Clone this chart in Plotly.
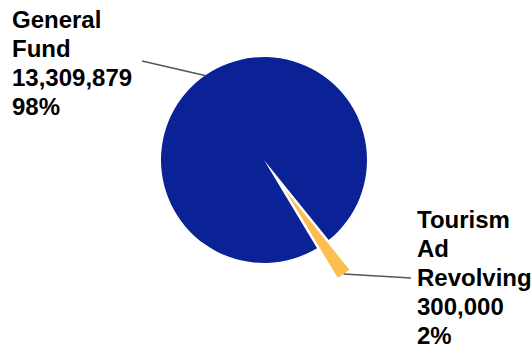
import math
import plotly.graph_objects as go

# Funding sources
labels = ["General Fund", "Tourism Ad Revolving"]
label_lines = [["General", "Fund"], ["Tourism", "Ad", "Revolving"]]
values = [13309879, 300000]
colors = ["#0a2295", "#fbbe50"]
pulls = [0, 0.35]

W, H = 532, 351
ROTATION = 149          # start angle of the first slice, clockwise from 12 o'clock
CX, CY, R = 264, 160, 103   # pie centre and radius in pixels

# pie domain sized so that plotly's radius (box / (2 + 2*maxPull)) equals R
box = 2 * R * (1 + max(pulls))
dom_x = [(CX - box / 2) / W, (CX + box / 2) / W]
dom_y = [1 - (CY + box / 2) / H, 1 - (CY - box / 2) / H]

total = sum(values)
pcts = [v / total * 100 for v in values]

fig = go.Figure(go.Pie(
    labels=labels,
    values=values,
    sort=False,
    direction="clockwise",
    rotation=ROTATION,
    pull=pulls,
    marker=dict(colors=colors, line=dict(width=0)),
    textinfo="none",
    hoverinfo="label+value+percent",
    domain=dict(x=dom_x, y=dom_y),
    showlegend=False,
))

# slice mid-angles, clockwise from 12 o'clock
mids = []
acc = 0.0
for v in values:
    frac = v / total
    mids.append(ROTATION + (acc + frac / 2) * 360)
    acc += frac


def edge_point(i):
    a = math.radians(mids[i])
    d = R * (1 + pulls[i])
    return CX + d * math.sin(a), CY - d * math.cos(a)


def to_paper(px, py):
    return px / W, 1 - py / H


FONT_SIZE = 24
LINE_STEP = 29
# label left edge and first-line baseline, and leader-line outer ends, in pixels
label_pos = [(11, 28), (416, 228)]
line_ends = [(142, 61), (411, 278)]

font = dict(family="Liberation Sans, Arial, sans-serif", size=FONT_SIZE, color="#000000")
for i in range(len(values)):
    rows = label_lines[i] + [f"{values[i]:,}", f"{pcts[i]:.0f}%"]
    lx, base = label_pos[i]
    for k, row in enumerate(rows):
        top = base + k * LINE_STEP - 0.905 * FONT_SIZE - 1
        ax, ay = to_paper(lx, top)
        fig.add_annotation(
            x=ax, y=ay, xref="paper", yref="paper",
            xanchor="left", yanchor="top", align="left",
            text=f"<b>{row}</b>", showarrow=False, font=font, borderpad=0,
        )
    x0, y0 = to_paper(*edge_point(i))
    x1, y1 = to_paper(*line_ends[i])
    fig.add_shape(type="line", xref="paper", yref="paper",
                  x0=x0, y0=y0, x1=x1, y1=y1,
                  line=dict(color="#555555", width=1.5))

fig.update_layout(
    width=W, height=H,
    margin=dict(l=0, r=0, t=0, b=0),
    paper_bgcolor="white",
    plot_bgcolor="white",
)

fig.write_html("out.html")
